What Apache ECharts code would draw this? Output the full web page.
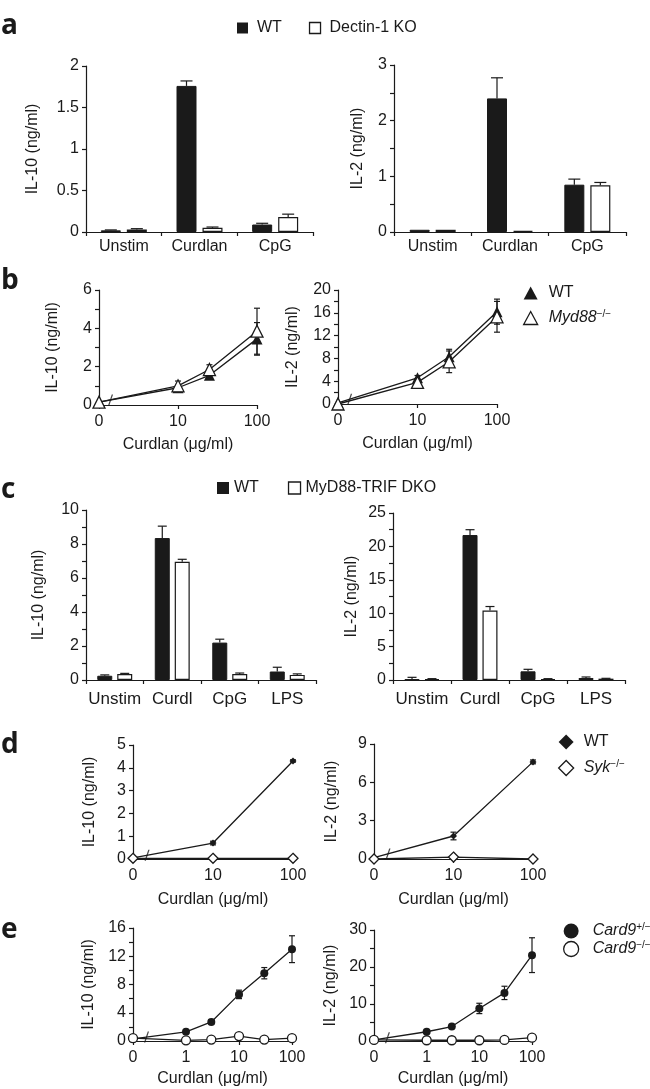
<!DOCTYPE html>
<html><head><meta charset="utf-8">
<script src="https://cdn.jsdelivr.net/npm/echarts@6/dist/echarts.min.js"></script>
<style>html,body{margin:0;padding:0;background:#fff}#c{width:650px;height:1089px}</style>
</head><body><div id="c"></div>
<script>
// ================= DATA =================
// Panel a (Dectin-1 KO)
const catsA = ['Unstim', 'Curdlan', 'CpG'];
const aIL10WT = [0.02, 1.76, 0.09];
const aIL10WTErr = [0.005, 0.06, 0.015];
const aIL10KO = [0.03, 0.05, 0.18];
const aIL10KOErr = [0.01, 0.01, 0.035];
const aIL2WT = [0.04, 2.40, 0.85];
const aIL2WTErr = [0, 0.37, 0.10];
const aIL2KO = [0.04, 0.02, 0.84];
const aIL2KOErr = [0, 0, 0.05];

// Panel b (Myd88)
const dosesB = [0, 10, 25, 100];
const bIL10WT = [0.15, 0.9, 1.55, 3.45];
const bIL10WTErr = [0.05, 0.1, 0.1, 0.85];
const bIL10Myd = [0.15, 1.0, 1.85, 3.85];
const bIL10MydErr = [0.05, 0.25, 0.25, 1.2];
const bIL2WT = [0.2, 4.6, 8.3, 16.2];
const bIL2WTErr = [0.1, 0.4, 1.3, 2.2];
const bIL2Myd = [0.0, 3.8, 7.4, 15.3];
const bIL2MydErr = [0.1, 0.5, 1.9, 2.7];

// Panel c (MyD88-TRIF DKO)
const catsC = ['Unstim', 'Curdl', 'CpG', 'LPS'];
const cIL10WT = [0.25, 8.35, 2.2, 0.5];
const cIL10WTErr = [0.05, 0.7, 0.2, 0.25];
const cIL10DKO = [0.35, 6.95, 0.35, 0.3];
const cIL10DKOErr = [0.04, 0.15, 0.06, 0.06];
const cIL2WT = [0.1, 21.7, 1.3, 0.3];
const cIL2WTErr = [0.3, 0.8, 0.3, 0.15];
const cIL2DKO = [0.15, 10.4, 0.15, 0.2];
const cIL2DKOErr = [0.05, 0.6, 0.05, 0.05];

// Panel d (Syk)
const dosesD = [0, 10, 100];
const dIL10WT = [0.05, 0.7, 4.3];
const dIL10WTErr = [0, 0.08, 0.05];
const dIL10Syk = [0.03, 0.03, 0.03];
const dIL2WT = [0.1, 1.8, 7.6];
const dIL2WTErr = [0.05, 0.3, 0.15];
const dIL2Syk = [0.0, 0.15, 0.0];

// Panel e (Card9)
const dosesE = [0, 1, 3, 10, 30, 100];
const eIL10Het = [0.3, 1.3, 2.7, 6.6, 9.6, 13.0];
const eIL10HetErr = [0.1, 0.15, 0.3, 0.6, 0.8, 1.9];
const eIL10KO = [0.4, 0.1, 0.2, 0.7, 0.2, 0.4];
const eIL10KOErr = [0.15, 0.05, 0.1, 0.3, 0.1, 0.1];
const eIL2Het = [0.3, 2.5, 3.9, 8.8, 13.0, 23.2];
const eIL2HetErr = [0.1, 0.3, 0.3, 1.4, 1.8, 4.7];
const eIL2KO = [0.3, 0.2, 0.2, 0.2, 0.3, 0.9];
const eIL2KOErr = [0.1, 0.05, 0.05, 0.1, 0.1, 0.2];

// Dose axis: "0" is drawn one decade below the first nonzero tick
const zeroDoseBD = 1;
const zeroDoseE = 0.1;
const doseAxisName = 'Curdlan (μg/ml)';

// ================= STYLE / LAYOUT =================
const FONT = '"Liberation Sans", Arial, Helvetica, sans-serif';
const INK = '#1a1a1a';

const grids = [
  {left: 86,  top: 66,  width: 227, height: 166}, // 0 a-left
  {left: 394, top: 65,  width: 232, height: 167}, // 1 a-right
  {left: 99,  top: 290, width: 158, height: 115}, // 2 b-left
  {left: 338, top: 290, width: 159, height: 114}, // 3 b-right
  {left: 86,  top: 510, width: 230, height: 170}, // 4 c-left
  {left: 393, top: 513, width: 232, height: 167}, // 5 c-right
  {left: 133, top: 745, width: 160, height: 114}, // 6 d-left
  {left: 374, top: 744, width: 159, height: 115}, // 7 d-right
  {left: 133, top: 928, width: 159, height: 113}, // 8 e-left
  {left: 374, top: 930, width: 158, height: 111}  // 9 e-right
];

const axLine = {show: true, lineStyle: {color: INK, width: 1.2}};
const axTick = {show: true, length: 4, lineStyle: {color: INK, width: 1.2}};

function yAx(g, max, interval, name, gap, minor) {
  return {
    type: 'value', gridIndex: g, min: 0, max: max, interval: interval,
    axisLine: axLine, axisTick: axTick, splitLine: {show: false},
    minorTick: {show: !!minor, splitNumber: minor || 5, length: 4, lineStyle: {color: INK, width: 1.2}},
    axisLabel: {fontFamily: FONT, fontSize: 16, color: INK, margin: 7},
    name: name, nameLocation: 'middle', nameGap: gap,
    nameTextStyle: {fontFamily: FONT, fontSize: 16, color: INK}
  };
}
function catAx(g, cats, fs, margin) {
  return {
    type: 'category', gridIndex: g, data: cats,
    axisLine: axLine, axisTick: axTick,
    axisLabel: {fontFamily: FONT, fontSize: fs, color: INK, margin: margin, interval: 0}
  };
}
function logAx(g, zeroDose, gap) {
  return {
    type: 'log', logBase: 10, gridIndex: g, min: zeroDose, max: 100,
    axisLine: axLine, axisTick: axTick, splitLine: {show: false},
    axisLabel: {fontFamily: FONT, fontSize: 16, color: INK, margin: 9,
      formatter: v => (Math.abs(v - zeroDose) < 1e-9 ? '0' : String(Math.round(v)))},
    name: doseAxisName, nameLocation: 'middle', nameGap: gap,
    nameTextStyle: {fontFamily: FONT, fontSize: 16, color: INK}
  };
}

const series = [];

function barPair(g, wt, wtErr, wtName, ko, koErr, koName, bw, gapFrac) {
  const common = {type: 'bar', xAxisIndex: g, yAxisIndex: g, barWidth: bw, barGap: (gapFrac * 100) + '%', z: 2, silent: true};
  series.push(Object.assign({}, common, {name: wtName, data: wt, itemStyle: {color: '#1a1a1a', borderColor: INK, borderWidth: 1}}));
  series.push(Object.assign({}, common, {name: koName, data: ko, itemStyle: {color: '#fff', borderColor: INK, borderWidth: 1.2}}));
  const off = (bw + bw * gapFrac) / 2;
  [[wt, wtErr, -1], [ko, koErr, 1]].forEach(([vals, errs, side]) => {
    series.push({
      type: 'custom', xAxisIndex: g, yAxisIndex: g, z: 3, silent: true,
      data: vals.map((v, i) => [i, v, v + errs[i]]),
      renderItem: (params, api) => {
        if (api.value(2) <= api.value(1)) return null;
        const b = api.coord([api.value(0), api.value(1)]);
        const t = api.coord([api.value(0), api.value(2)]);
        const x = b[0] + side * off, cap = bw * 0.3;
        return {type: 'group', children: [
          {type: 'line', shape: {x1: x, y1: b[1], x2: x, y2: t[1]}, style: {stroke: INK, lineWidth: 1.2}},
          {type: 'line', shape: {x1: x - cap, y1: t[1], x2: x + cap, y2: t[1]}, style: {stroke: INK, lineWidth: 1.2}}
        ]};
      }
    });
  });
}

function doseX(d, zero) { return d === 0 ? zero : d; }

function lineSer(g, doses, zero, vals, name, symbol, size, filled, z) {
  series.push({
    type: 'line', name: name, xAxisIndex: g, yAxisIndex: g, z: z, silent: true,
    data: doses.map((d, i) => [doseX(d, zero), vals[i]]),
    symbol: symbol, symbolSize: size, showAllSymbol: true,
    lineStyle: {color: INK, width: 1.3},
    itemStyle: {color: filled ? INK : '#fff', borderColor: INK, borderWidth: filled ? 0 : 1.3}
  });
}
function errSer(g, doses, zero, vals, errs, cap) {
  series.push({
    type: 'custom', xAxisIndex: g, yAxisIndex: g, z: 1, silent: true,
    data: doses.map((d, i) => [doseX(d, zero), vals[i] - errs[i], vals[i] + errs[i]]),
    renderItem: (params, api) => {
      const lo = api.coord([api.value(0), Math.max(0, api.value(1))]);
      const hi = api.coord([api.value(0), api.value(2)]);
      if (Math.abs(lo[1] - hi[1]) < 2) return null;
      const x = lo[0];
      return {type: 'group', children: [
        {type: 'line', shape: {x1: x, y1: lo[1], x2: x, y2: hi[1]}, style: {stroke: INK, lineWidth: 1.2}},
        {type: 'line', shape: {x1: x - cap, y1: hi[1], x2: x + cap, y2: hi[1]}, style: {stroke: INK, lineWidth: 1.2}},
        {type: 'line', shape: {x1: x - cap, y1: lo[1], x2: x + cap, y2: lo[1]}, style: {stroke: INK, lineWidth: 1.2}}
      ]};
    }
  });
}
// axis-break slash drawn on the line just right of the "0" dose
function breakMark(g, doses, zero, vals, bDose) {
  const x0 = Math.log10(zero), x1 = Math.log10(doses[1]), xb = Math.log10(bDose);
  const y = vals[0] + (vals[1] - vals[0]) * (xb - x0) / (x1 - x0);
  series.push({
    type: 'scatter', xAxisIndex: g, yAxisIndex: g, z: 4, silent: true,
    data: [[bDose, y]],
    symbol: 'path://M0,10 L1.3,10 L5,0 L3.7,0 Z', symbolSize: [5, 11],
    itemStyle: {color: INK}
  });
}

// ---- panel a ----
barPair(0, aIL10WT, aIL10WTErr, 'WT', aIL10KO, aIL10KOErr, 'Dectin-1 KO', 20, 0.3);
barPair(1, aIL2WT, aIL2WTErr, 'WT', aIL2KO, aIL2KOErr, 'Dectin-1 KO', 20, 0.3);
// ---- panel b ----
[[2, bIL10WT, bIL10WTErr, bIL10Myd, bIL10MydErr], [3, bIL2WT, bIL2WTErr, bIL2Myd, bIL2MydErr]].forEach(([g, wt, wte, ko, koe]) => {
  errSer(g, dosesB, zeroDoseBD, wt, wte, 3);
  errSer(g, dosesB, zeroDoseBD, ko, koe, 3);
  lineSer(g, dosesB, zeroDoseBD, wt, 'WT', 'triangle', 11, true, 2);
  lineSer(g, dosesB, zeroDoseBD, ko, 'Myd88−/−', 'triangle', 12, false, 3);
  breakMark(g, dosesB, zeroDoseBD, wt, 1.4);
});
// ---- panel c ----
barPair(4, cIL10WT, cIL10WTErr, 'WT', cIL10DKO, cIL10DKOErr, 'MyD88-TRIF DKO', 15, 0.33);
barPair(5, cIL2WT, cIL2WTErr, 'WT', cIL2DKO, cIL2DKOErr, 'MyD88-TRIF DKO', 15, 0.33);
// ---- panel d ----
[[6, dIL10WT, dIL10WTErr, dIL10Syk], [7, dIL2WT, dIL2WTErr, dIL2Syk]].forEach(([g, wt, wte, ko]) => {
  errSer(g, dosesD, zeroDoseBD, wt, wte, 3);
  lineSer(g, dosesD, zeroDoseBD, wt, 'WT', 'diamond', 7, true, 2);
  lineSer(g, dosesD, zeroDoseBD, ko, 'Syk−/−', 'diamond', 10, false, 3);
  breakMark(g, dosesD, zeroDoseBD, wt, 1.5);
});
// ---- panel e ----
[[8, eIL10Het, eIL10HetErr, eIL10KO, eIL10KOErr], [9, eIL2Het, eIL2HetErr, eIL2KO, eIL2KOErr]].forEach(([g, wt, wte, ko, koe]) => {
  errSer(g, dosesE, zeroDoseE, wt, wte, 3);
  errSer(g, dosesE, zeroDoseE, ko, koe, 3);
  lineSer(g, dosesE, zeroDoseE, wt, 'Card9+/−', 'circle', 8, true, 2);
  lineSer(g, dosesE, zeroDoseE, ko, 'Card9−/−', 'circle', 9, false, 3);
  breakMark(g, dosesE, zeroDoseE, wt, 0.18);
});

const xAxis = [
  catAx(0, catsA, 16, 7), catAx(1, catsA, 16, 7),
  logAx(2, zeroDoseBD, 32), logAx(3, zeroDoseBD, 32),
  catAx(4, catsC, 17, 11), catAx(5, catsC, 17, 11),
  logAx(6, zeroDoseBD, 33), logAx(7, zeroDoseBD, 33),
  logAx(8, zeroDoseE, 30), logAx(9, zeroDoseE, 30)
];
const yAxis = [
  yAx(0, 2, 0.5, 'IL-10 (ng/ml)', 45, 0),
  yAx(1, 3, 1, 'IL-2 (ng/ml)', 28, 2),
  yAx(2, 6, 2, 'IL-10 (ng/ml)', 38, 2),
  yAx(3, 20, 4, 'IL-2 (ng/ml)', 37, 2),
  yAx(4, 10, 2, 'IL-10 (ng/ml)', 39, 2),
  yAx(5, 25, 5, 'IL-2 (ng/ml)', 33, 2),
  yAx(6, 5, 1, 'IL-10 (ng/ml)', 35, 0),
  yAx(7, 9, 3, 'IL-2 (ng/ml)', 34, 0),
  yAx(8, 16, 4, 'IL-10 (ng/ml)', 36, 2),
  yAx(9, 30, 10, 'IL-2 (ng/ml)', 35, 2)
];

function legText(padLeft) {
  return {fontFamily: FONT, fontSize: 16, color: INK, padding: [0, 0, 0, padLeft],
    rich: {
      i: {fontFamily: FONT, fontSize: 16, fontStyle: 'italic', color: INK, lineHeight: 18, verticalAlign: 'middle'},
      s: {fontFamily: FONT, fontSize: 10, color: INK, lineHeight: 10, verticalAlign: 'top'}
    }};
}
const legFmt = name => {
  const m = name.match(/^(Myd88|Syk|Card9)(.*)$/);
  return m ? '{i|' + m[1] + '}{s|' + m[2] + '}' : name;
};
const filledStyle = {color: INK, borderColor: INK, borderWidth: 0};
const openStyle = {color: '#fff', borderColor: INK, borderWidth: 1.3};
const legend = [
  {left: 237, top: 20, padding: 0, itemWidth: 11, itemHeight: 11, itemGap: 27, textStyle: legText(4), formatter: legFmt, selectedMode: false,
    data: [{name: 'WT', icon: 'rect', itemStyle: filledStyle}, {name: 'Dectin-1 KO', icon: 'rect', itemStyle: openStyle}]},
  {left: 523, top: 285, orient: 'vertical', padding: 0, itemWidth: 14, itemHeight: 13, itemGap: 8, textStyle: legText(6), formatter: legFmt, selectedMode: false,
    data: [{name: 'WT', icon: 'triangle', itemStyle: filledStyle}, {name: 'Myd88−/−', icon: 'triangle', itemStyle: openStyle}]},
  {left: 217, top: 480, padding: 0, itemWidth: 12, itemHeight: 12, itemGap: 29, textStyle: legText(0), formatter: legFmt, selectedMode: false,
    data: [{name: 'WT', icon: 'rect', itemStyle: filledStyle}, {name: 'MyD88-TRIF DKO', icon: 'rect', itemStyle: openStyle}]},
  {left: 558, top: 734, orient: 'vertical', padding: 0, itemWidth: 15, itemHeight: 15, itemGap: 9, textStyle: legText(5), formatter: legFmt, selectedMode: false,
    data: [{name: 'WT', icon: 'diamond', itemStyle: filledStyle}, {name: 'Syk−/−', icon: 'diamond', itemStyle: openStyle}]},
  {left: 563, top: 922, orient: 'vertical', padding: 0, itemWidth: 15, itemHeight: 15, itemGap: 1, textStyle: legText(9), formatter: legFmt, selectedMode: false,
    data: [{name: 'Card9+/−', icon: 'circle', itemStyle: filledStyle}, {name: 'Card9−/−', icon: 'circle', itemStyle: openStyle}]}
];

const letterFont = 'bold 28px "Open Sans", "Liberation Sans", sans-serif';
const letters = [['a', 33], ['b', 288], ['c', 497], ['d', 752], ['e', 937]];
const graphic = letters.map(([t, base]) => ({
  type: 'text', x: 1, y: base - 7,
  style: {text: t, font: letterFont, fill: INK, verticalAlign: 'middle', align: 'left'}
}));

const chart = echarts.init(document.getElementById('c'), null, {renderer: 'canvas'});
chart.setOption({
  animation: false,
  backgroundColor: '#fff',
  textStyle: {fontFamily: FONT},
  grid: grids,
  xAxis: xAxis,
  yAxis: yAxis,
  legend: legend,
  graphic: graphic,
  series: series
});
</script></body></html>
